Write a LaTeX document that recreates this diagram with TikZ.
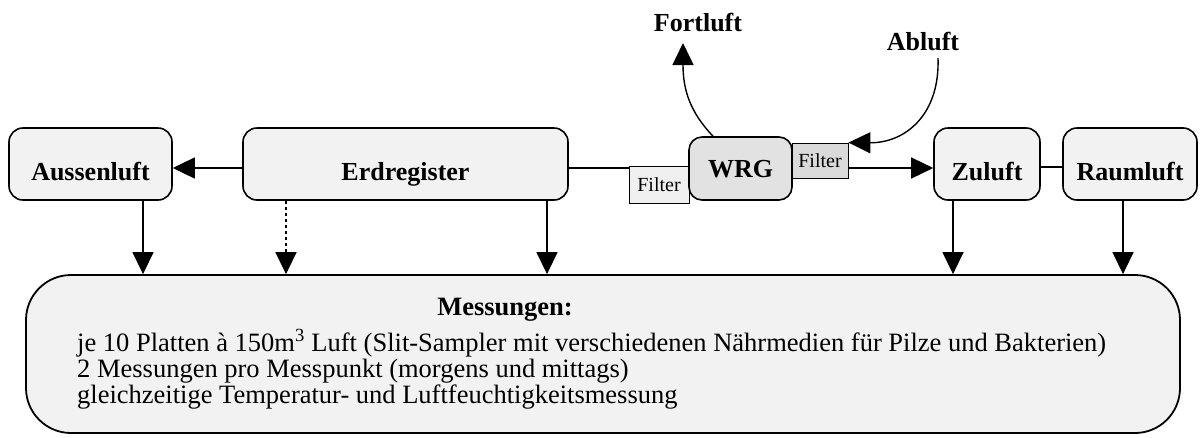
\documentclass[tikz,border=0pt]{standalone}
\usepackage{fontspec}
\setmainfont{Liberation Serif}
\usetikzlibrary{arrows.meta}
\definecolor{boxgray}{RGB}{242,242,242}
\definecolor{wrggray}{RGB}{226,226,226}
\definecolor{filtera}{RGB}{240,240,240}
\definecolor{filterb}{RGB}{218,218,218}
\begin{document}
\begin{tikzpicture}[x=1pt,y=-1pt,
  box/.style={draw, line width=1.6pt, rounded corners=14pt, fill=boxgray,
    font=\fontsize{26}{30}\selectfont\bfseries, inner sep=0pt, minimum height=72pt,
    text height=32pt, text depth=0pt},
  filterbox/.style={draw, line width=0.8pt, inner sep=0pt,
    font=\fontsize{20}{24}\selectfont},
  lbl/.style={font=\fontsize{26}{30}\selectfont\bfseries, inner sep=0pt},
  body/.style={font=\fontsize{26.5}{26}\selectfont, inner sep=0pt, anchor=base west},
  arr/.style={line width=1.4pt, -{Triangle[length=22pt,width=21pt]}},
  conn/.style={line width=1.2pt}
]
\useasboundingbox (0,0) rectangle (1201,437);

% measurement box
\node[draw, line width=1.8pt, rounded corners=45pt, fill=boxgray,
  minimum width=1154pt, minimum height=158pt, inner sep=0pt] (mess) at (603,354) {};
\node[lbl, anchor=base, font=\fontsize{26.5}{30}\selectfont\bfseries] (mtitle) at (505,315) {Messungen:};
\node[body] (l1) at (77,351) {je 10 Platten à 150m\textsuperscript{3} Luft (Slit-Sampler mit verschiedenen Nährmedien für Pilze und Bakterien)};
\node[body] (l2) at (77,377) {2 Messungen pro Messpunkt (morgens und mittags)};
\node[body] (l3) at (77,403) {gleichzeitige Temperatur- und Luftfeuchtigkeitsmessung};

% top boxes
\node[box, minimum width=163pt] (aus) at (90.5,164) {Aussenluft};
\node[box, minimum width=325pt] (erd) at (405.5,164) {Erdregister};
\node[filterbox, fill=filtera, minimum width=60pt, minimum height=37pt] (f1) at (659,184.5) {Filter};
\node[draw, line width=1.6pt, rounded corners=13pt, fill=wrggray, inner sep=0pt,
  minimum width=103pt, minimum height=63pt, text height=17pt, text depth=0pt,
  font=\fontsize{26}{30}\selectfont\bfseries] (wrg) at (740.5,168.5) {WRG};
\node[filterbox, fill=filterb, minimum width=56pt, minimum height=35pt] (f2) at (820,160.5) {Filter};
\node[box, minimum width=106pt] (zu) at (987,164) {Zuluft};
\node[box, minimum width=134pt] (raum) at (1130,164) {Raumluft};

\node[lbl] (fort) at (698,23) {Fortluft};
\node[lbl] (ab) at (923,42) {Abluft};
\coordinate (fttip) at (683,43);
\coordinate (abstart) at (938,58);

% horizontal connectors
\draw[arr] ([yshift=-4pt]erd.west) -- ([yshift=-4pt]aus.east);
\draw[conn] ([yshift=-4pt]erd.east) -- (f1.west |- 0,168);
\draw[arr] (f2.east |- 0,168) -- ([yshift=-4pt]zu.west);
\draw[conn] ([yshift=-3pt]zu.east) -- ([yshift=-3pt]raum.west);

% curved
\draw[arr] ([xshift=-27.5pt]wrg.north) .. controls (690,112) and (683,90) .. (fttip);
\draw[arr] (abstart) .. controls (940,115) and (905,143) .. (f2.north east);

% down arrows
\draw[arr] ([xshift=52.5pt]aus.south) -- ([xshift=52.5pt]aus.south |- mess.north);
\draw[line width=1.6pt, dash pattern=on 3pt off 3pt, -{Triangle[length=22pt,width=21pt]}]
  ([xshift=-119.5pt]erd.south) -- ([xshift=-119.5pt]erd.south |- mess.north);
\draw[arr] ([xshift=141.5pt]erd.south) -- ([xshift=141.5pt]erd.south |- mess.north);
\draw[arr] ([xshift=-34pt]zu.south) -- ([xshift=-34pt]zu.south |- mess.north);
\draw[arr] ([xshift=-7pt]raum.south) -- ([xshift=-7pt]raum.south |- mess.north);
\end{tikzpicture}
\end{document}
